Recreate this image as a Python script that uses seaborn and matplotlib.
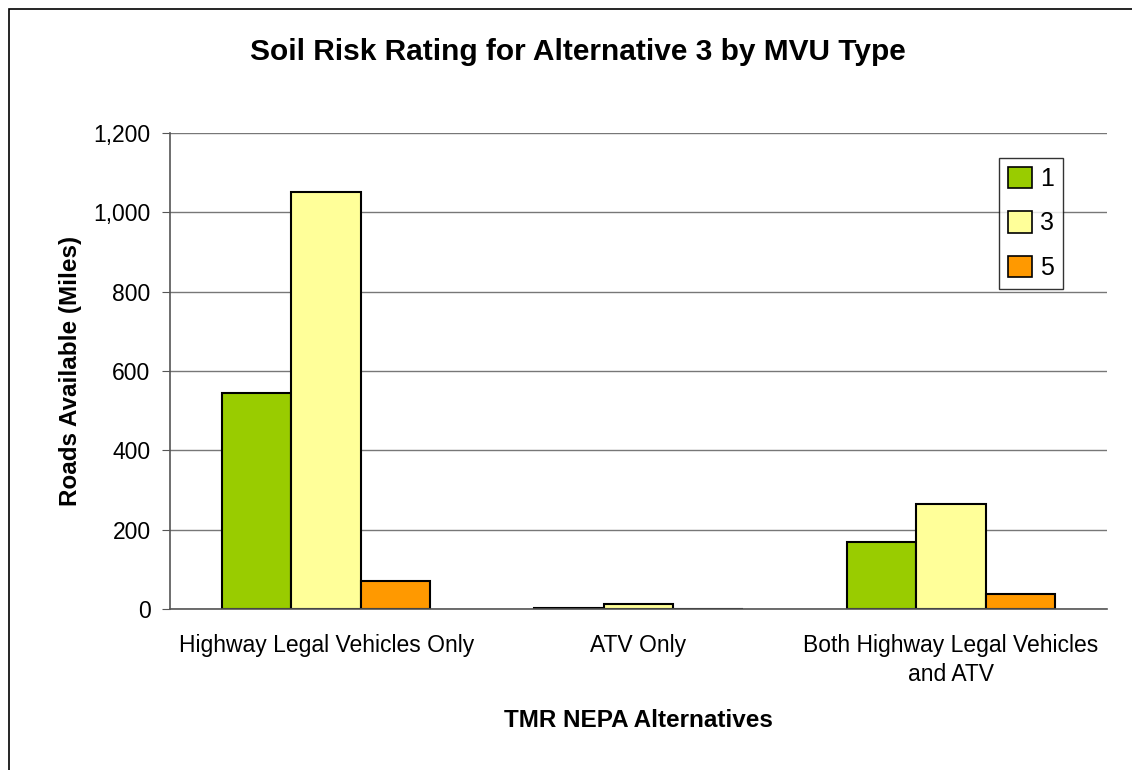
import numpy as np
import matplotlib
matplotlib.use("Agg")
import matplotlib.pyplot as plt
import pandas as pd
import seaborn as sns
from matplotlib.patches import Rectangle

categories = ["Highway Legal Vehicles Only", "ATV Only", "Both Highway Legal Vehicles\nand ATV"]
rating_1 = [545, 3, 170]
rating_3 = [1051, 13, 265]
rating_5 = [71, 0, 38]
ratings = ["1", "3", "5"]
colors = ["#99CC00", "#FFFF99", "#FF9900"]

rows = []
for r, vals in zip(ratings, [rating_1, rating_3, rating_5]):
    for c, v in zip(categories, vals):
        rows.append({"alt": c, "rating": r, "miles": v})
df = pd.DataFrame(rows)

sns.set_style("white")
plt.rcParams['font.family'] = ['Liberation Sans', 'DejaVu Sans']
plt.rcParams['text.color'] = 'black'
plt.rcParams['xtick.color'] = 'black'
plt.rcParams['ytick.color'] = 'black'
plt.rcParams['axes.labelcolor'] = 'black'

fig = plt.figure(figsize=(11.32, 7.70), dpi=100)
ax = fig.add_axes([170/1132, 1-609/770, (1107-170)/1132, (609-133)/770])

sns.barplot(data=df, x="alt", y="miles", hue="rating", palette=colors,
            width=0.667, gap=0, edgecolor="black", linewidth=1.5,
            saturation=1, ax=ax, legend=True)

ax.set_ylim(0, 1200)
ax.set_xlim(-0.5, 2.5)
ax.set_yticks(range(0, 1201, 200))
ax.set_yticklabels([f"{v:,}" for v in range(0, 1201, 200)])
ax.yaxis.grid(True, color="#777777", linewidth=1)
ax.set_axisbelow(True)
for s in ["top", "right"]:
    ax.spines[s].set_visible(False)
for s in ["left", "bottom"]:
    ax.spines[s].set_color("#555555")
    ax.spines[s].set_linewidth(1.2)

# ticks between categories
ax.set_xticks([0, 1, 2])
ax.set_xticklabels(categories, fontsize=16.5, linespacing=1.35)
ax.tick_params(axis="x", length=0, pad=18)
ax.set_xticks([-0.5, 0.5, 1.5, 2.5], minor=True)
ax.tick_params(axis="x", which="minor", length=6, direction="out", color="#555555")
ax.tick_params(axis="y", length=6, direction="out", color="#555555", labelcolor="black",
               labelsize=16.5, pad=8, left=True)

ax.set_xlabel("TMR NEPA Alternatives", fontsize=17.5, fontweight="bold", labelpad=16)
ax.set_ylabel("Roads Available (Miles)", fontsize=17.5, fontweight="bold", labelpad=8)
fig.text(578/1132, 1-52/770, "Soil Risk Rating for Alternative 3 by MVU Type",
         ha="center", va="center", fontsize=21.5, fontweight="bold")

leg = ax.legend(title=None, loc="upper right", fontsize=18,
                frameon=True, fancybox=False, handlelength=0.95, handleheight=0.95,
                handletextpad=0.35, labelspacing=0.8, borderpad=0.35, borderaxespad=0)
leg.set_bbox_to_anchor(((1063-170)/(1107-170), (609-158)/(609-133)), transform=ax.transAxes)
leg.get_frame().set_edgecolor("black")
leg.get_frame().set_linewidth(1)
for p in leg.get_patches():
    p.set_edgecolor("black")
    p.set_linewidth(1.2)

fig.patches.append(Rectangle((9/1132, -0.1), 1.2, 1-9/770+0.1, transform=fig.transFigure,
                             fill=False, edgecolor="black", linewidth=1.2))

fig.savefig("out.png", dpi=100)
